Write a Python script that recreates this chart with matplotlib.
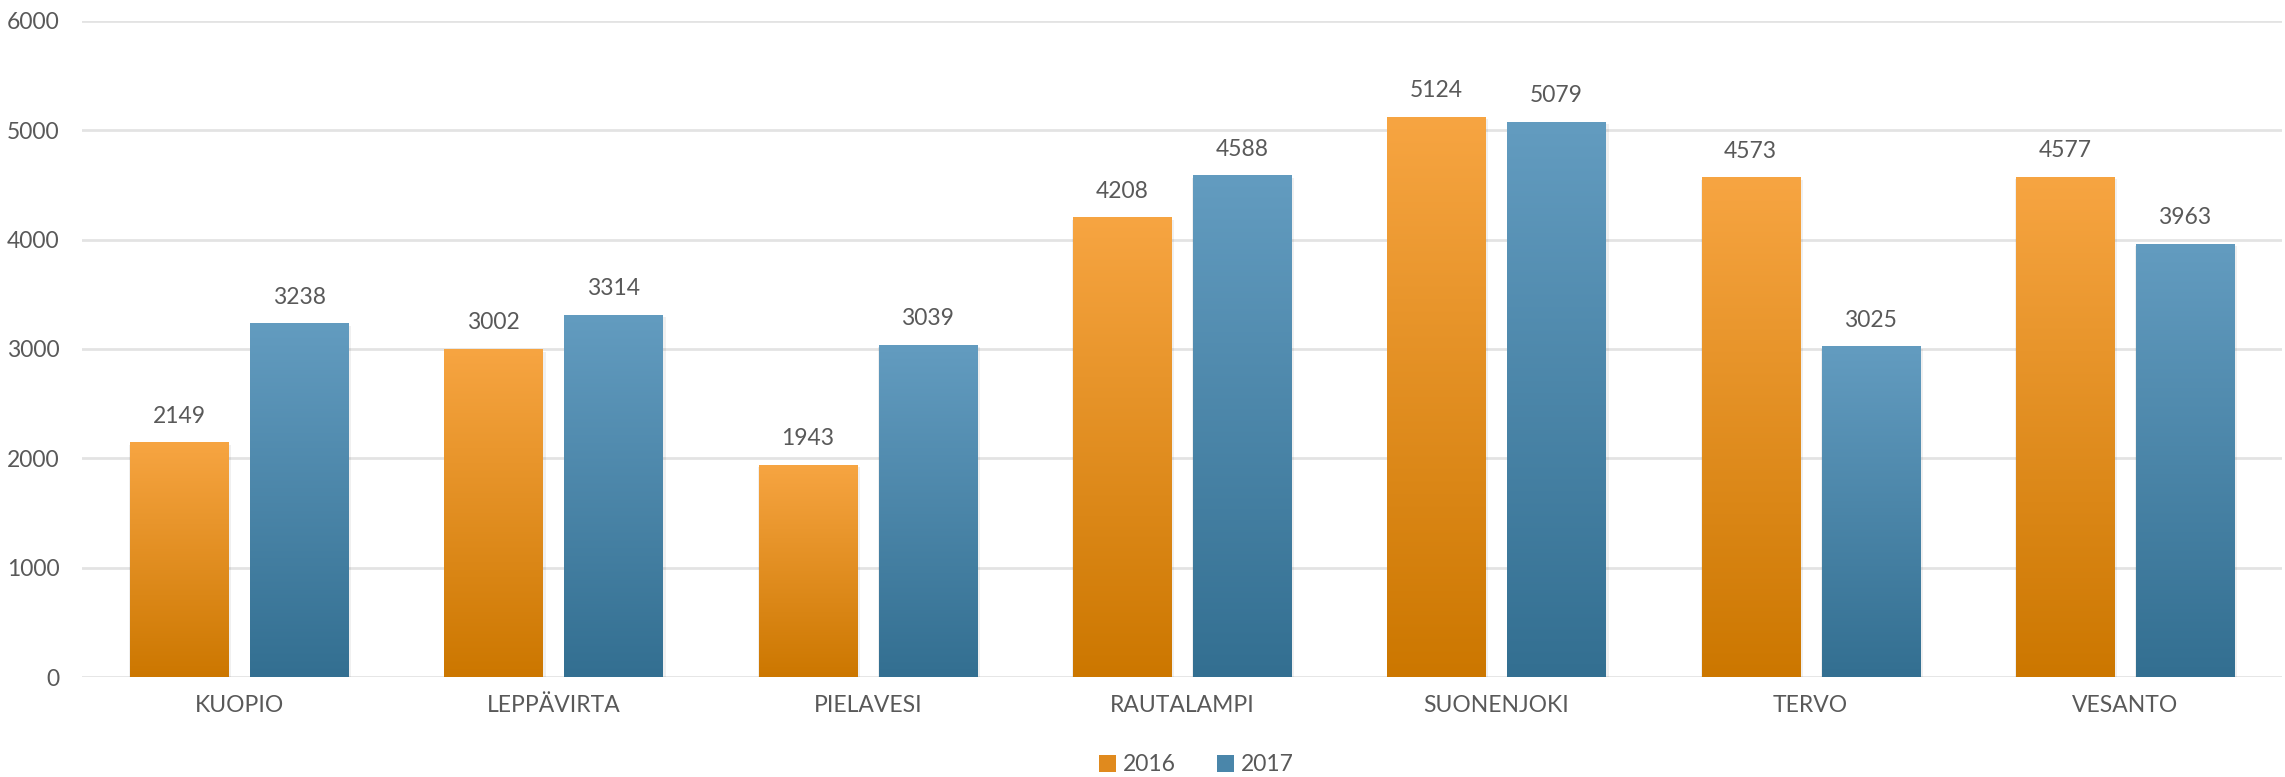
import matplotlib
matplotlib.use("Agg")
import matplotlib.pyplot as plt
import numpy as np
from matplotlib.colors import LinearSegmentedColormap
from matplotlib.patches import Patch

categories = ["KUOPIO", "LEPPÄVIRTA", "PIELAVESI", "RAUTALAMPI", "SUONENJOKI", "TERVO", "VESANTO"]
series_names = ["2016", "2017"]
values_2016 = [2149, 3002, 1943, 4208, 5124, 4573, 4577]
values_2017 = [3238, 3314, 3039, 4588, 5079, 3025, 3963]
yticks = [0, 1000, 2000, 3000, 4000, 5000, 6000]

plt.rcParams['font.family'] = ['Lato', 'DejaVu Sans']
txt = '#595959'
fs = 16.5

fig = plt.figure(figsize=(22.85, 7.77), dpi=100)
ax = fig.add_axes([0.0359, 0.1287, 0.9628, 0.8443])

x = np.arange(len(categories))
w = 0.312
off = 0.191

grads = [
    LinearSegmentedColormap.from_list('o', ['#CC7700', '#F7A542']),
    LinearSegmentedColormap.from_list('b', ['#336F91', '#639CC0']),
]
solid = ['#E08A1E', '#4A86AA']

grad_img = np.linspace(0, 1, 256).reshape(-1, 1)
for si, vals in enumerate([values_2016, values_2017]):
    xs = x + (-off if si == 0 else off)
    bars = ax.bar(xs, vals, width=w, color=solid[si], zorder=3, linewidth=0)
    for b, v in zip(bars, vals):
        # shadow
        ax.bar(b.get_x() + b.get_width() / 2 + 0.004, v, width=w + 0.012, bottom=-25,
               color='#000000', alpha=0.06, zorder=2, linewidth=0)
        x0 = b.get_x()
        im = ax.imshow(grad_img, cmap=grads[si], origin='lower', aspect='auto',
                       extent=[x0, x0 + b.get_width(), 0, v], zorder=3.5, interpolation='bicubic')
        im.set_clip_path(b)
        ax.text(b.get_x() + b.get_width() / 2, v + 140, str(v), ha='center', va='bottom',
                fontsize=fs, color=txt)

ax.set_xlim(-0.5, len(categories) - 0.5)
ax.set_ylim(0, 6000)
ax.set_yticks(yticks)
ax.set_yticklabels([str(t) for t in yticks])
ax.set_xticks(x)
ax.set_xticklabels(categories)
ax.tick_params(axis='both', length=0, labelsize=fs, labelcolor=txt)
ax.tick_params(axis='y', pad=16)
ax.tick_params(axis='x', pad=13)
ax.yaxis.grid(True, color='#E3E3E3', linewidth=2, zorder=0)
ax.set_axisbelow(True)
for s in ax.spines.values():
    s.set_visible(False)

handles = [Patch(facecolor=solid[0], label=series_names[0]),
           Patch(facecolor=solid[1], label=series_names[1])]
fig.legend(handles=handles, loc='center', bbox_to_anchor=(0.5235, 0.0155), ncol=2,
           frameon=False, fontsize=fs, labelcolor=txt, handlelength=0.75, handleheight=0.75,
           handletextpad=0.3, columnspacing=1.8)

fig.savefig('out.png', dpi=100)
